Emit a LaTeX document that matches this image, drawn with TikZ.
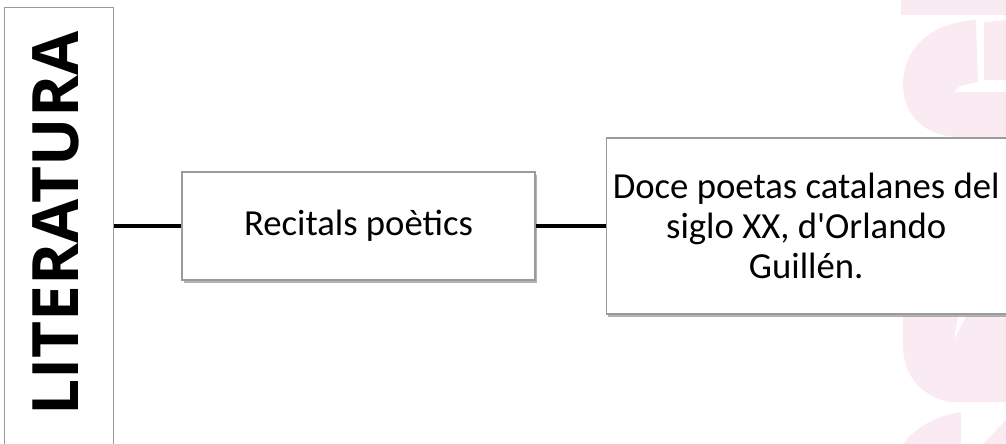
\documentclass[tikz,border=0pt]{standalone}
\usepackage{fontspec}
\setmainfont{Carlito}
\newfontfamily\titolfont{Open Sans}
\usetikzlibrary{positioning,shadows}
\definecolor{marca}{RGB}{250,235,243}
\definecolor{vora}{RGB}{155,155,155}
\tikzset{
    catbox/.style={rectangle, draw=vora, line width=1.2pt, fill=white, minimum width=109pt, minimum height=460pt, inner sep=0pt},
    itembox/.style={rectangle, draw=vora, line width=1.2pt, fill=white, text centered, inner sep=4pt,
      font=\fontsize{36.7}{40}\selectfont,
      drop shadow={shadow xshift=1.5pt, shadow yshift=-2.5pt, fill=black!50, opacity=.6}},
    link/.style={line width=4pt, black}
}

\begin{document}
\begin{tikzpicture}[x=1pt, y=-1pt]
    \useasboundingbox (0,0) rectangle (1006,444);
    % watermark
    \fill[marca] (901,0) rectangle (1006,15);
    \fill[marca] (976,20) .. controls (935,22) and (903,45) .. (903,85)
      .. controls (903,115) and (925,137) .. (960,137) -- (1006,137) -- (1006,92) -- (955,92)
      .. controls (958,86) .. (978,82) -- cycle;
    \fill[marca] (984,22) -- (1006,20) -- (1006,80) -- (984,80) -- cycle;
    \fill[marca] (903,316) -- (958,316) -- (954,340) -- (966,316) -- (1006,316) -- (1006,402) -- (950,402)
      .. controls (920,396) and (903,375) .. (903,345) -- cycle;
    \fill[marca] (903,444) .. controls (915,428) and (935,416) .. (961,412) -- (961,444) -- cycle;
    \fill[marca] (983,444) -- (1006,420) -- (1006,444) -- cycle;

    \node[catbox, anchor=north west] (lit) at (4,7) {};
    \node[rotate=90, inner sep=0pt, font=\titolfont\bfseries\fontsize{64}{64}\selectfont] (littext) at (56,223.5) {LITERATURA};
    \node[itembox, minimum width=353pt, minimum height=108pt] (rec) at (358.5,226) {Recitals poètics};
    \node[itembox, minimum width=400pt, minimum height=176pt, align=center, right=70pt of rec] (doce)
      {Doce poetas catalanes del\\ siglo XX, d\textquotesingle Orlando\\ Guillén.};
    \draw[link] (lit.east |- rec.west) -- (rec.west);
    \draw[link] (rec.east) -- (doce.west |- rec.east);
\end{tikzpicture}
\end{document}
